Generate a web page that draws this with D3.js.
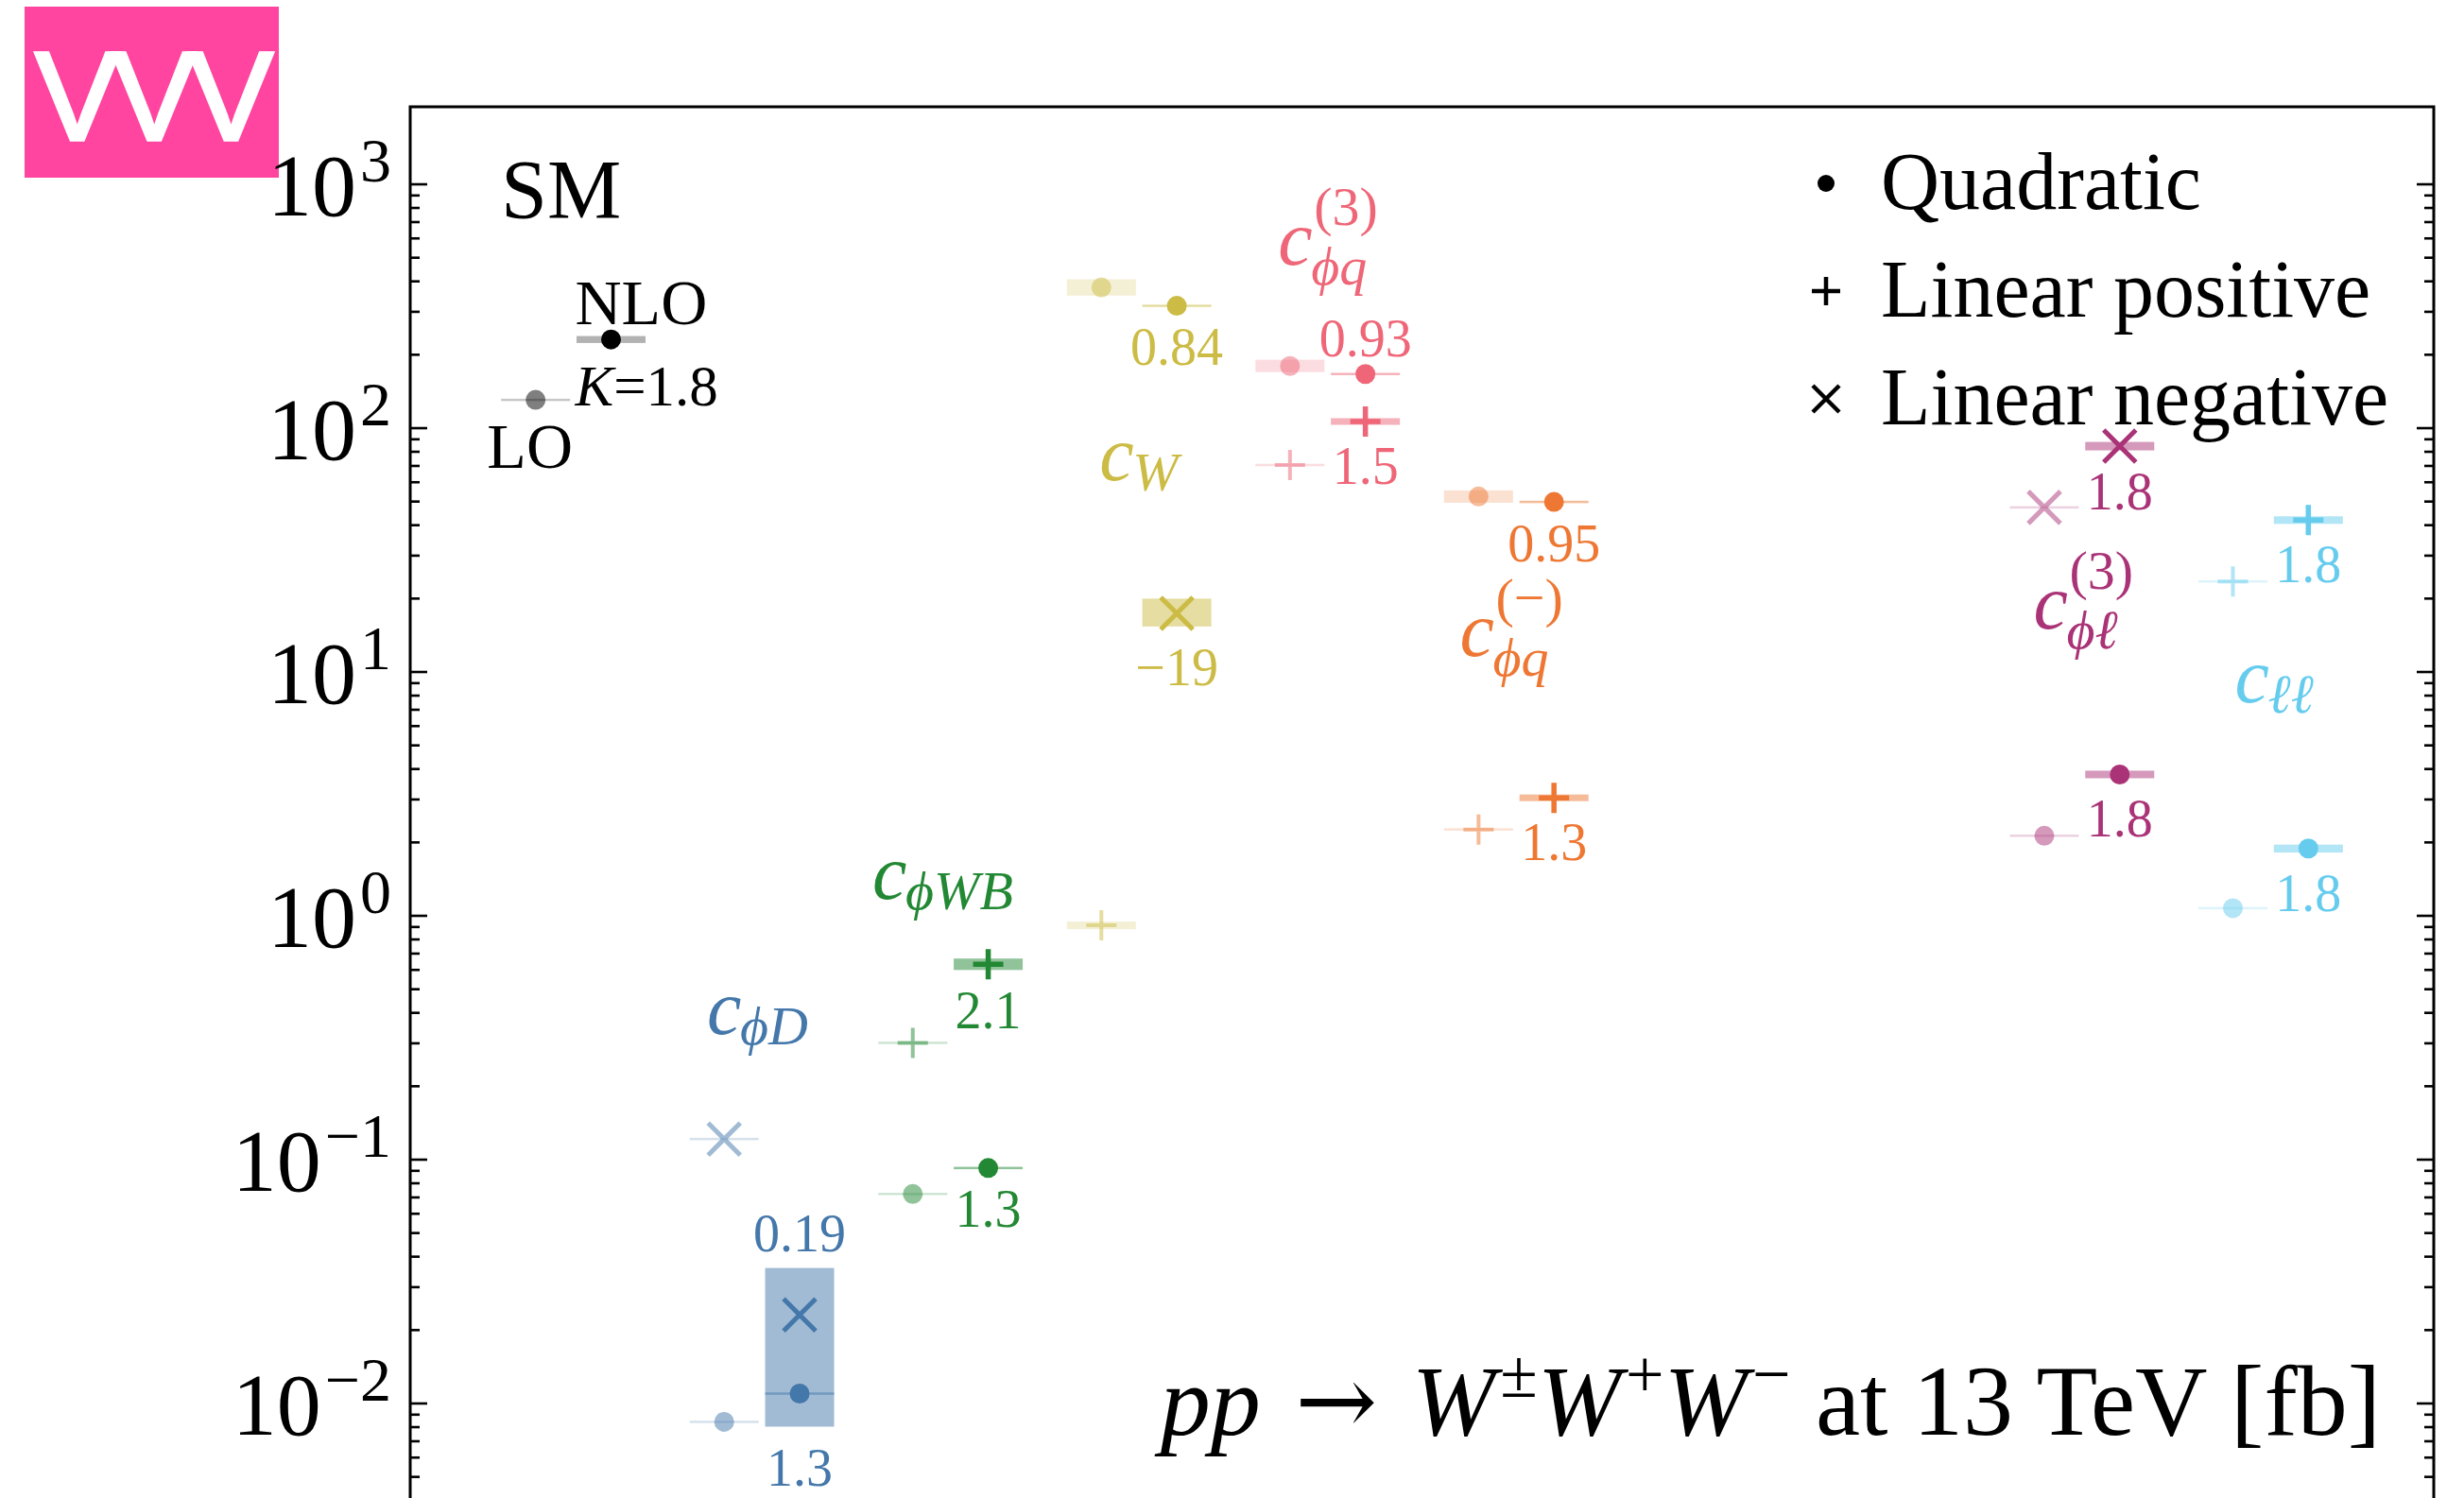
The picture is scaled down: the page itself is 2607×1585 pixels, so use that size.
<!DOCTYPE html>
<html>
<head>
<meta charset="utf-8">
<script src="https://cdn.jsdelivr.net/npm/d3@7"></script>
<style>
  html, body { margin: 0; padding: 0; background: #fff; }
  svg { display: block; }
  text { font-family: "Liberation Serif", "Times New Roman", serif; white-space: pre; }
</style>
</head>
<body>
<svg id="chart" width="2607" height="1585"></svg>
<script>
// ---------------------------------------------------------------
// pp -> W±W+W- at 13 TeV: SM and dimension-6 contributions [fb]
// ---------------------------------------------------------------

// Operator columns and their slot on the horizontal axis
const operators = ["SM", "cphiD", "cphiWB", "cW", "cphiq3", "cphiqm", "cphil3", "cll"];
const slots     = [0, 1, 2, 3, 4, 5, 8, 9];

// Quadratic contributions [fb] and their scale-variation bands [lo, hi]
const quadLO  = [130, 0.00837, 0.072, 376, 179, 52.2, 2.12, 1.07];
const quadNLO = [230, 0.01093, 0.092, 316, 166, 49.6, 3.78, 1.88];
const quadLOBand = [
  [129.4, 130.6], [0.00833, 0.00841], [0.0717, 0.0723], [348, 406],
  [169, 190], [49.2, 55.3], [2.11, 2.13], [1.065, 1.075]
];
const quadNLOBand = [
  [222.5, 237.6], [0.01088, 0.01098], [0.0916, 0.0924], [314.5, 317.5],
  [165.3, 166.7], [49.4, 49.8], [3.65, 3.92], [1.81, 1.95]
];

// Linear (interference) contributions [fb], signed: + positive, x negative
const linLO  = [null, -0.121, 0.300, 0.91, 70.3, 2.25, -47.1, 23.4];
const linNLO = [null, -0.023, 0.630, -17.3, 106, 3.03, -84, 41.8];
const linLOBand = [
  null, [0.1205, 0.1215], [0.2988, 0.3012], [0.878, 0.943],
  [70.0, 70.6], [2.24, 2.26], [46.9, 47.3], [23.3, 23.5]
];
const linNLOBand = [
  null, [0.0080, 0.0358], [0.597, 0.665], [15.3, 19.9],
  [102.7, 109.4], [2.94, 3.13], [80.7, 87.4], [40.3, 43.3]
];

// K-factors (NLO / LO) printed next to the NLO marks
const kQuad = ["1.8", "1.3", "1.3", "0.84", "0.93", "0.95", "1.8", "1.8"];
const kLin  = [null, "0.19", "2.1", "\u221219", "1.5", "1.3", "1.8", "1.8"];
const kQuadSide = [null, "below", "below", "below", "above", "below", "below", "below"];
const kLinSide  = [null, "above", "below", "below", "below", "below", "below", "below"];

// Operator names: c with subscript / superscript
const coefSub = ["", "\u03D5D", "\u03D5WB", "W", "\u03D5q", "\u03D5q", "\u03D5\u2113", "\u2113\u2113"];
const coefSup = ["", "", "", "", "(3)", "(\u2212)", "(3)", ""];

// Axis ticks (powers of ten) and legend entries
const yTickExponents = [-2, -1, 0, 1, 2, 3];
const legendLabels = ["Quadratic", "Linear positive", "Linear negative"];
const legendShapes = ["dot", "plus", "cross"];

// ---------------------------------------------------------------
// Styling
// ---------------------------------------------------------------
const colors = {
  SM: "#000000", cphiD: "#4477AA", cphiWB: "#228833", cW: "#CCBB44",
  cphiq3: "#EE6677", cphiqm: "#EE7733", cphil3: "#AA3377", cll: "#66CCEE"
};
const nloBandOpacity = { SM: 0.3 };
const loMarkOpacity = 0.5, loBandOpacity = 0.22, nloBandDefault = 0.5;

// Name placement (x in slot units, y in fb at the baseline of "c")
const coefPos = [
  null,
  { s: 0.709, v: 0.327 }, { s: 1.586, v: 1.17 }, { s: 2.79, v: 61 },
  { s: 3.737, v: 467 },   { s: 4.70, v: 11.6 },  { s: 7.742, v: 15.0 },
  { s: 8.81, v: 7.48 }
];

const frame = { left: 434, right: 2575, top: 113 };
const svg = d3.select("#chart");

const x = d3.scaleLinear().domain([-0.865, 9.865]).range([frame.left, frame.right]);
const y = d3.scaleLog().domain([Math.pow(10, -2.5), 2070]).range([1613.5, frame.top]);

const loOff = -0.2, nloOff = 0.2, bandHalf = 36.5;

// ---------------------------------------------------------------
// Badge
// ---------------------------------------------------------------
svg.append("rect").attr("x", 26).attr("y", 7).attr("width", 269).attr("height", 181)
  .attr("fill", "#ff45a0");
svg.append("text").attr("x", 37).attr("y", 148)
  .style("font-family", "'Liberation Sans', Arial, sans-serif")
  .attr("font-size", 134).attr("letter-spacing", -8)
  .attr("fill", "#fff").attr("stroke", "#fff").attr("stroke-width", 3.5)
  .attr("stroke-linejoin", "miter").text("VVV");

// ---------------------------------------------------------------
// Axes
// ---------------------------------------------------------------
const majorVals = yTickExponents.map(e => Math.pow(10, e));
const minorVals = y.ticks().filter(v => {
  const l = Math.log10(v);
  return Math.abs(l - Math.round(l)) > 1e-6 && y(v) > frame.top + 6;
});

function styleAxis(g) {
  g.select(".domain").remove();
  g.selectAll(".tick line").attr("stroke", "#000").attr("stroke-width", 2.6);
  g.selectAll(".tick text").remove();
}

svg.append("g").attr("transform", `translate(${frame.left},0)`)
  .call(d3.axisLeft(y).tickValues(majorVals).tickSize(-18).tickFormat(""))
  .call(styleAxis);
svg.append("g").attr("transform", `translate(${frame.left},0)`)
  .call(d3.axisLeft(y).tickValues(minorVals).tickSize(-10).tickFormat(""))
  .call(styleAxis);
svg.append("g").attr("transform", `translate(${frame.right},0)`)
  .call(d3.axisRight(y).tickValues(majorVals).tickSize(-18).tickFormat(""))
  .call(styleAxis);
svg.append("g").attr("transform", `translate(${frame.right},0)`)
  .call(d3.axisRight(y).tickValues(minorVals).tickSize(-10).tickFormat(""))
  .call(styleAxis);

// Tick labels 10^n
const tickLabels = svg.append("g").attr("fill", "#000");
yTickExponents.forEach(e => {
  const t = tickLabels.append("text")
    .attr("x", frame.left - 20).attr("y", y(Math.pow(10, e)) + 33)
    .attr("text-anchor", "end").attr("font-size", 94);
  t.append("tspan").text("10");
  t.append("tspan").attr("font-size", 66).attr("dx", 4).attr("dy", -36)
    .text(e < 0 ? "\u2212" + Math.abs(e) : String(e));
});

// Frame
svg.append("path")
  .attr("d", `M${frame.left},1600V${frame.top}H${frame.right}V1600`)
  .attr("fill", "none").attr("stroke", "#000").attr("stroke-width", 3);

// ---------------------------------------------------------------
// Points
// ---------------------------------------------------------------
const points = [];
operators.forEach((op, i) => {
  points.push({ i, op, order: "LO",  shape: "dot", val: quadLO[i],  band: quadLOBand[i] });
  points.push({ i, op, order: "NLO", shape: "dot", val: quadNLO[i], band: quadNLOBand[i],
                k: kQuad[i], side: kQuadSide[i] });
  if (linLO[i] !== null) {
    points.push({ i, op, order: "LO",  shape: linLO[i] > 0 ? "plus" : "cross",
                  val: Math.abs(linLO[i]), band: linLOBand[i] });
    points.push({ i, op, order: "NLO", shape: linNLO[i] > 0 ? "plus" : "cross",
                  val: Math.abs(linNLO[i]), band: linNLOBand[i], k: kLin[i], side: kLinSide[i] });
  }
});
points.forEach(p => { p.px = x(slots[p.i] + (p.order === "LO" ? loOff : nloOff)); });

// Scale-variation bands
const bands = svg.append("g");
points.forEach(p => {
  let y0 = y(p.band[1]), y1 = y(p.band[0]);
  if (y1 - y0 < 2.5) { const c = y(p.val); y0 = c - 1.25; y1 = c + 1.25; }
  const op = p.order === "LO" ? loBandOpacity
           : (nloBandOpacity[p.op] !== undefined ? nloBandOpacity[p.op] : nloBandDefault);
  bands.append("rect")
    .attr("x", p.px - bandHalf).attr("width", 2 * bandHalf)
    .attr("y", y0).attr("height", y1 - y0)
    .attr("fill", colors[p.op]).attr("fill-opacity", op);
});

// Markers
function drawMarker(g, shape, cx, cy, color, opacity, heavy) {
  if (shape === "dot") {
    g.append("circle").attr("cx", cx).attr("cy", cy).attr("r", 10.5)
      .attr("fill", color).attr("fill-opacity", opacity);
  } else if (shape === "plus") {
    g.append("path").attr("d", `M${cx - 16},${cy}H${cx + 16}M${cx},${cy - 16}V${cy + 16}`)
      .attr("stroke", color).attr("stroke-opacity", opacity)
      .attr("stroke-width", heavy ? 5.5 : 4).attr("fill", "none");
  } else {
    g.append("path")
      .attr("d", `M${cx - 17},${cy - 17}L${cx + 17},${cy + 17}M${cx - 17},${cy + 17}L${cx + 17},${cy - 17}`)
      .attr("stroke", color).attr("stroke-opacity", opacity)
      .attr("stroke-width", 5).attr("fill", "none");
  }
}
const marks = svg.append("g");
points.forEach(p => {
  drawMarker(marks, p.shape, p.px, y(p.val), colors[p.op],
             p.order === "LO" ? loMarkOpacity : 1, p.order === "NLO");
});

// K-factor labels
const kLabels = svg.append("g").attr("font-size", 56).attr("text-anchor", "middle");
points.filter(p => p.order === "NLO" && p.side).forEach(p => {
  // extent of every NLO band in this column that covers the mark
  const covering = points.filter(q => q.i === p.i && q.order === "NLO" &&
                                 q.band[0] <= p.val && q.band[1] >= p.val);
  const lo = d3.min(covering, q => q.band[0]);
  const hi = d3.max(covering, q => q.band[1]);
  const by = p.side === "below" ? y(lo) + 62 : y(hi) - 18;
  kLabels.append("text").attr("x", p.px).attr("y", by)
    .attr("fill", colors[p.op]).text(p.k);
});

// SM annotations
const smLO = points.find(p => p.op === "SM" && p.order === "LO");
const smNLO = points.find(p => p.op === "SM" && p.order === "NLO");
svg.append("text").attr("x", 530).attr("y", 230).attr("font-size", 88).text("SM");
svg.append("text").attr("x", smNLO.px - 38).attr("y", y(smNLO.val) - 16)
  .attr("font-size", 68).text("NLO");
svg.append("text").attr("x", smLO.px - 6).attr("y", y(smLO.val) + 72)
  .attr("text-anchor", "middle").attr("font-size", 68).text("LO");
const kt = svg.append("text").attr("x", smNLO.px - 38).attr("y", y(smLO.val) + 6)
  .attr("font-size", 61);
kt.append("tspan").attr("font-style", "italic").text("K");
kt.append("tspan").text("=" + kQuad[0]);

// Operator names
operators.forEach((op, i) => {
  if (!coefPos[i]) return;
  const px = x(coefPos[i].s), py = y(coefPos[i].v);
  const g = svg.append("g").attr("fill", colors[op]);
  g.append("text").attr("x", px).attr("y", py)
    .attr("font-style", "italic").attr("font-size", 82).text("c");
  g.append("text").attr("x", px + 35).attr("y", py + (coefSup[i] ? 21 : 11))
    .attr("font-style", "italic").attr("font-size", 58).text(coefSub[i]);
  if (coefSup[i]) {
    g.append("text").attr("x", px + 38).attr("y", py - 42)
      .attr("font-size", 58).text(coefSup[i]);
  }
});

// ---------------------------------------------------------------
// Legend
// ---------------------------------------------------------------
const legend = svg.append("g");
const legendRows = [194, 308, 422];
legendLabels.forEach((lab, j) => {
  const ly = legendRows[j];
  if (legendShapes[j] === "dot") {
    legend.append("circle").attr("cx", 1932).attr("cy", ly).attr("r", 9).attr("fill", "#000");
  } else if (legendShapes[j] === "plus") {
    legend.append("path").attr("d", `M1917,${ly}H1947M1932,${ly - 15}V${ly + 15}`)
      .attr("stroke", "#000").attr("stroke-width", 4.5);
  } else {
    legend.append("path").attr("d", `M1918,${ly - 14}L1946,${ly + 14}M1918,${ly + 14}L1946,${ly - 14}`)
      .attr("stroke", "#000").attr("stroke-width", 4.5);
  }
  legend.append("text").attr("x", 1990).attr("y", ly + 27).attr("font-size", 86).text(lab);
});

// ---------------------------------------------------------------
// Process title
// ---------------------------------------------------------------
const title = svg.append("text").attr("x", 2519).attr("y", 1518)
  .attr("text-anchor", "end").attr("font-size", 106);
const titleParts = [
  ["pp", "it"], [" ", ""], ["\u2192", "arrow"], [" ", "gap"], ["W", "it"], ["\u00B1", "sup"],
  ["W", "it"], ["+", "sup"], ["W", "it"], ["\u2212", "sup"], [" at 13 TeV [fb]", ""]
];
let raised = false;
titleParts.forEach(([s, kind]) => {
  const ts = title.append("tspan").text(s);
  if (kind === "it") ts.attr("font-style", "italic");
  if (kind === "arrow") ts.style("font-family", "'DejaVu Serif', serif")
    .attr("font-size", 104).attr("dx", 10);
  if (kind === "gap") ts.attr("dx", 10);
  if (kind === "sup") { ts.attr("font-size", 72).attr("dx", 5).attr("dy", -40); raised = true; }
  else if (raised) { ts.attr("dy", 40); raised = false; }
});
</script>
</body>
</html>
